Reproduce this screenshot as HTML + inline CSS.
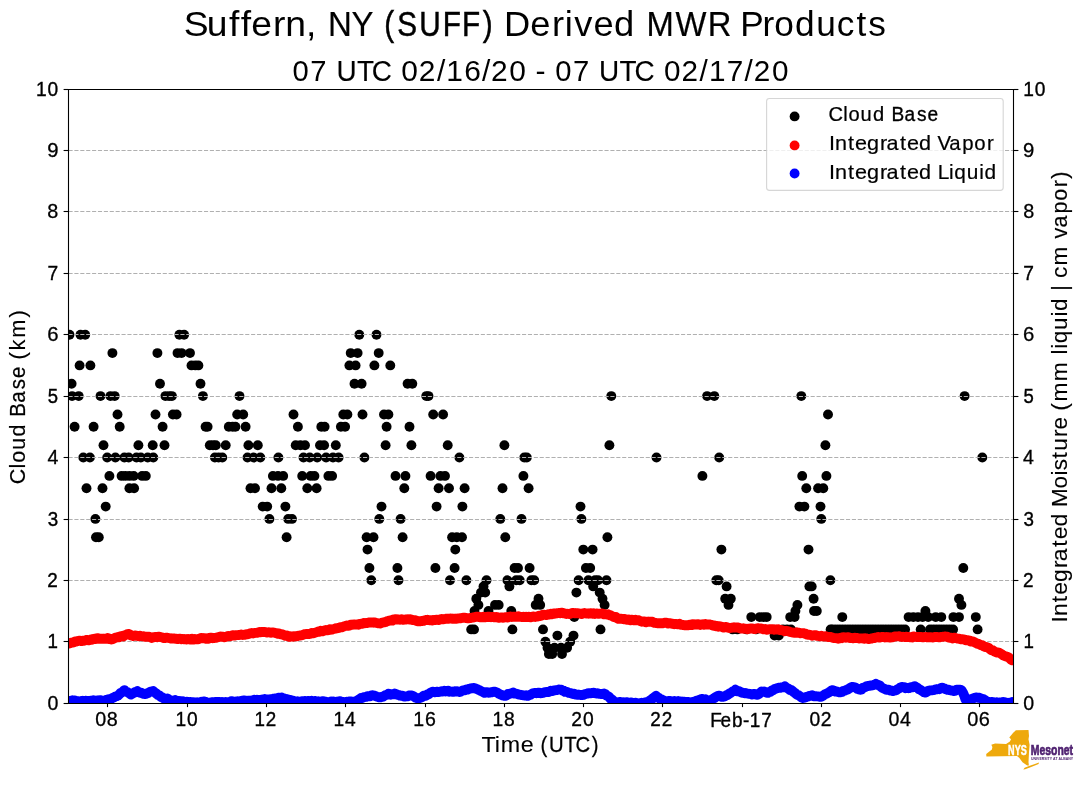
<!DOCTYPE html>
<html><head><meta charset="utf-8"><title>Suffern MWR</title>
<style>html,body{margin:0;padding:0;background:#fff}svg{display:block;will-change:transform}</style></head>
<body>
<svg width="1089" height="804" viewBox="0 0 1089 804" font-family="'Liberation Sans', sans-serif" style="font-kerning:none">
<rect width="1089" height="804" fill="#fff"/>
<defs><clipPath id="ax"><rect x="68.5" y="89.5" width="945.0" height="614.0"/></clipPath></defs>
<g clip-path="url(#ax)" fill="#000">
<circle cx="69.5" cy="334.7" r="4.95"/>
<circle cx="80.5" cy="334.7" r="4.95"/>
<circle cx="85.2" cy="334.7" r="4.95"/>
<circle cx="179.4" cy="334.7" r="4.95"/>
<circle cx="184.1" cy="334.7" r="4.95"/>
<circle cx="359.3" cy="334.7" r="4.95"/>
<circle cx="376.5" cy="334.7" r="4.95"/>
<circle cx="112.4" cy="353.1" r="4.95"/>
<circle cx="157.4" cy="353.1" r="4.95"/>
<circle cx="177.5" cy="353.1" r="4.95"/>
<circle cx="181.6" cy="353.1" r="4.95"/>
<circle cx="190.0" cy="353.1" r="4.95"/>
<circle cx="350.7" cy="353.1" r="4.95"/>
<circle cx="357.6" cy="353.1" r="4.95"/>
<circle cx="378.7" cy="353.1" r="4.95"/>
<circle cx="79.6" cy="365.4" r="4.95"/>
<circle cx="90.4" cy="365.4" r="4.95"/>
<circle cx="191.5" cy="365.4" r="4.95"/>
<circle cx="195.3" cy="365.4" r="4.95"/>
<circle cx="198.4" cy="365.4" r="4.95"/>
<circle cx="349.4" cy="365.4" r="4.95"/>
<circle cx="355.6" cy="365.4" r="4.95"/>
<circle cx="374.4" cy="365.4" r="4.95"/>
<circle cx="390.3" cy="365.4" r="4.95"/>
<circle cx="71.6" cy="383.8" r="4.95"/>
<circle cx="160.0" cy="383.8" r="4.95"/>
<circle cx="200.5" cy="383.8" r="4.95"/>
<circle cx="354.5" cy="383.8" r="4.95"/>
<circle cx="361.6" cy="383.8" r="4.95"/>
<circle cx="407.6" cy="383.8" r="4.95"/>
<circle cx="412.3" cy="383.8" r="4.95"/>
<circle cx="72.1" cy="396.1" r="4.95"/>
<circle cx="78.7" cy="396.1" r="4.95"/>
<circle cx="100.5" cy="396.1" r="4.95"/>
<circle cx="110.4" cy="396.1" r="4.95"/>
<circle cx="114.7" cy="396.1" r="4.95"/>
<circle cx="165.4" cy="396.1" r="4.95"/>
<circle cx="169.1" cy="396.1" r="4.95"/>
<circle cx="171.9" cy="396.1" r="4.95"/>
<circle cx="202.9" cy="396.1" r="4.95"/>
<circle cx="239.5" cy="396.1" r="4.95"/>
<circle cx="426.3" cy="396.1" r="4.95"/>
<circle cx="428.5" cy="396.1" r="4.95"/>
<circle cx="611.3" cy="396.1" r="4.95"/>
<circle cx="707.1" cy="396.1" r="4.95"/>
<circle cx="714.3" cy="396.1" r="4.95"/>
<circle cx="801.3" cy="396.1" r="4.95"/>
<circle cx="964.6" cy="396.1" r="4.95"/>
<circle cx="117.5" cy="414.5" r="4.95"/>
<circle cx="155.5" cy="414.5" r="4.95"/>
<circle cx="172.9" cy="414.5" r="4.95"/>
<circle cx="176.6" cy="414.5" r="4.95"/>
<circle cx="237.2" cy="414.5" r="4.95"/>
<circle cx="243.2" cy="414.5" r="4.95"/>
<circle cx="293.5" cy="414.5" r="4.95"/>
<circle cx="343.3" cy="414.5" r="4.95"/>
<circle cx="347.4" cy="414.5" r="4.95"/>
<circle cx="362.5" cy="414.5" r="4.95"/>
<circle cx="384.0" cy="414.5" r="4.95"/>
<circle cx="388.4" cy="414.5" r="4.95"/>
<circle cx="433.2" cy="414.5" r="4.95"/>
<circle cx="443.1" cy="414.5" r="4.95"/>
<circle cx="828.0" cy="414.5" r="4.95"/>
<circle cx="74.6" cy="426.8" r="4.95"/>
<circle cx="93.6" cy="426.8" r="4.95"/>
<circle cx="119.7" cy="426.8" r="4.95"/>
<circle cx="162.6" cy="426.8" r="4.95"/>
<circle cx="205.6" cy="426.8" r="4.95"/>
<circle cx="207.6" cy="426.8" r="4.95"/>
<circle cx="228.8" cy="426.8" r="4.95"/>
<circle cx="232.6" cy="426.8" r="4.95"/>
<circle cx="235.4" cy="426.8" r="4.95"/>
<circle cx="245.6" cy="426.8" r="4.95"/>
<circle cx="297.9" cy="426.8" r="4.95"/>
<circle cx="321.3" cy="426.8" r="4.95"/>
<circle cx="324.6" cy="426.8" r="4.95"/>
<circle cx="340.9" cy="426.8" r="4.95"/>
<circle cx="345.1" cy="426.8" r="4.95"/>
<circle cx="386.6" cy="426.8" r="4.95"/>
<circle cx="409.5" cy="426.8" r="4.95"/>
<circle cx="103.5" cy="445.2" r="4.95"/>
<circle cx="138.4" cy="445.2" r="4.95"/>
<circle cx="152.7" cy="445.2" r="4.95"/>
<circle cx="164.5" cy="445.2" r="4.95"/>
<circle cx="209.8" cy="445.2" r="4.95"/>
<circle cx="213.0" cy="445.2" r="4.95"/>
<circle cx="215.8" cy="445.2" r="4.95"/>
<circle cx="225.7" cy="445.2" r="4.95"/>
<circle cx="248.4" cy="445.2" r="4.95"/>
<circle cx="257.8" cy="445.2" r="4.95"/>
<circle cx="295.7" cy="445.2" r="4.95"/>
<circle cx="300.4" cy="445.2" r="4.95"/>
<circle cx="305.0" cy="445.2" r="4.95"/>
<circle cx="320.0" cy="445.2" r="4.95"/>
<circle cx="324.1" cy="445.2" r="4.95"/>
<circle cx="335.8" cy="445.2" r="4.95"/>
<circle cx="385.6" cy="445.2" r="4.95"/>
<circle cx="411.4" cy="445.2" r="4.95"/>
<circle cx="447.7" cy="445.2" r="4.95"/>
<circle cx="504.4" cy="445.2" r="4.95"/>
<circle cx="609.4" cy="445.2" r="4.95"/>
<circle cx="825.4" cy="445.2" r="4.95"/>
<circle cx="83.3" cy="457.5" r="4.95"/>
<circle cx="89.9" cy="457.5" r="4.95"/>
<circle cx="107.2" cy="457.5" r="4.95"/>
<circle cx="115.4" cy="457.5" r="4.95"/>
<circle cx="124.4" cy="457.5" r="4.95"/>
<circle cx="128.7" cy="457.5" r="4.95"/>
<circle cx="136.5" cy="457.5" r="4.95"/>
<circle cx="140.8" cy="457.5" r="4.95"/>
<circle cx="147.7" cy="457.5" r="4.95"/>
<circle cx="153.3" cy="457.5" r="4.95"/>
<circle cx="214.9" cy="457.5" r="4.95"/>
<circle cx="218.6" cy="457.5" r="4.95"/>
<circle cx="222.3" cy="457.5" r="4.95"/>
<circle cx="247.5" cy="457.5" r="4.95"/>
<circle cx="253.7" cy="457.5" r="4.95"/>
<circle cx="260.3" cy="457.5" r="4.95"/>
<circle cx="278.4" cy="457.5" r="4.95"/>
<circle cx="303.5" cy="457.5" r="4.95"/>
<circle cx="309.7" cy="457.5" r="4.95"/>
<circle cx="317.2" cy="457.5" r="4.95"/>
<circle cx="326.1" cy="457.5" r="4.95"/>
<circle cx="333.0" cy="457.5" r="4.95"/>
<circle cx="338.6" cy="457.5" r="4.95"/>
<circle cx="364.4" cy="457.5" r="4.95"/>
<circle cx="459.4" cy="457.5" r="4.95"/>
<circle cx="524.3" cy="457.5" r="4.95"/>
<circle cx="526.8" cy="457.5" r="4.95"/>
<circle cx="656.5" cy="457.5" r="4.95"/>
<circle cx="719.2" cy="457.5" r="4.95"/>
<circle cx="982.3" cy="457.5" r="4.95"/>
<circle cx="109.4" cy="475.9" r="4.95"/>
<circle cx="121.6" cy="475.9" r="4.95"/>
<circle cx="125.3" cy="475.9" r="4.95"/>
<circle cx="129.4" cy="475.9" r="4.95"/>
<circle cx="133.7" cy="475.9" r="4.95"/>
<circle cx="142.1" cy="475.9" r="4.95"/>
<circle cx="145.8" cy="475.9" r="4.95"/>
<circle cx="272.9" cy="475.9" r="4.95"/>
<circle cx="278.0" cy="475.9" r="4.95"/>
<circle cx="283.2" cy="475.9" r="4.95"/>
<circle cx="302.2" cy="475.9" r="4.95"/>
<circle cx="310.6" cy="475.9" r="4.95"/>
<circle cx="314.4" cy="475.9" r="4.95"/>
<circle cx="328.4" cy="475.9" r="4.95"/>
<circle cx="332.1" cy="475.9" r="4.95"/>
<circle cx="395.5" cy="475.9" r="4.95"/>
<circle cx="405.4" cy="475.9" r="4.95"/>
<circle cx="430.6" cy="475.9" r="4.95"/>
<circle cx="440.4" cy="475.9" r="4.95"/>
<circle cx="445.0" cy="475.9" r="4.95"/>
<circle cx="523.4" cy="475.9" r="4.95"/>
<circle cx="702.4" cy="475.9" r="4.95"/>
<circle cx="802.2" cy="475.9" r="4.95"/>
<circle cx="826.4" cy="475.9" r="4.95"/>
<circle cx="86.5" cy="488.2" r="4.95"/>
<circle cx="102.5" cy="488.2" r="4.95"/>
<circle cx="129.4" cy="488.2" r="4.95"/>
<circle cx="134.1" cy="488.2" r="4.95"/>
<circle cx="250.5" cy="488.2" r="4.95"/>
<circle cx="255.0" cy="488.2" r="4.95"/>
<circle cx="271.5" cy="488.2" r="4.95"/>
<circle cx="281.3" cy="488.2" r="4.95"/>
<circle cx="307.3" cy="488.2" r="4.95"/>
<circle cx="316.6" cy="488.2" r="4.95"/>
<circle cx="404.3" cy="488.2" r="4.95"/>
<circle cx="438.6" cy="488.2" r="4.95"/>
<circle cx="449.0" cy="488.2" r="4.95"/>
<circle cx="464.6" cy="488.2" r="4.95"/>
<circle cx="502.5" cy="488.2" r="4.95"/>
<circle cx="528.6" cy="488.2" r="4.95"/>
<circle cx="806.3" cy="488.2" r="4.95"/>
<circle cx="818.1" cy="488.2" r="4.95"/>
<circle cx="823.3" cy="488.2" r="4.95"/>
<circle cx="105.7" cy="506.6" r="4.95"/>
<circle cx="262.7" cy="506.6" r="4.95"/>
<circle cx="267.2" cy="506.6" r="4.95"/>
<circle cx="285.4" cy="506.6" r="4.95"/>
<circle cx="381.5" cy="506.6" r="4.95"/>
<circle cx="436.6" cy="506.6" r="4.95"/>
<circle cx="462.4" cy="506.6" r="4.95"/>
<circle cx="580.5" cy="506.6" r="4.95"/>
<circle cx="799.4" cy="506.6" r="4.95"/>
<circle cx="804.4" cy="506.6" r="4.95"/>
<circle cx="820.5" cy="506.6" r="4.95"/>
<circle cx="95.4" cy="518.9" r="4.95"/>
<circle cx="269.4" cy="518.9" r="4.95"/>
<circle cx="288.2" cy="518.9" r="4.95"/>
<circle cx="292.0" cy="518.9" r="4.95"/>
<circle cx="379.3" cy="518.9" r="4.95"/>
<circle cx="400.6" cy="518.9" r="4.95"/>
<circle cx="500.3" cy="518.9" r="4.95"/>
<circle cx="521.5" cy="518.9" r="4.95"/>
<circle cx="581.4" cy="518.9" r="4.95"/>
<circle cx="821.3" cy="518.9" r="4.95"/>
<circle cx="96.0" cy="537.3" r="4.95"/>
<circle cx="98.8" cy="537.3" r="4.95"/>
<circle cx="286.6" cy="537.3" r="4.95"/>
<circle cx="366.6" cy="537.3" r="4.95"/>
<circle cx="373.5" cy="537.3" r="4.95"/>
<circle cx="402.6" cy="537.3" r="4.95"/>
<circle cx="452.1" cy="537.3" r="4.95"/>
<circle cx="456.8" cy="537.3" r="4.95"/>
<circle cx="462.0" cy="537.3" r="4.95"/>
<circle cx="505.3" cy="537.3" r="4.95"/>
<circle cx="607.4" cy="537.3" r="4.95"/>
<circle cx="367.5" cy="549.6" r="4.95"/>
<circle cx="455.3" cy="549.6" r="4.95"/>
<circle cx="583.3" cy="549.6" r="4.95"/>
<circle cx="592.6" cy="549.6" r="4.95"/>
<circle cx="721.4" cy="549.6" r="4.95"/>
<circle cx="808.5" cy="549.6" r="4.95"/>
<circle cx="369.4" cy="568.0" r="4.95"/>
<circle cx="397.4" cy="568.0" r="4.95"/>
<circle cx="435.4" cy="568.0" r="4.95"/>
<circle cx="454.6" cy="568.0" r="4.95"/>
<circle cx="514.6" cy="568.0" r="4.95"/>
<circle cx="518.0" cy="568.0" r="4.95"/>
<circle cx="529.6" cy="568.0" r="4.95"/>
<circle cx="585.9" cy="568.0" r="4.95"/>
<circle cx="590.2" cy="568.0" r="4.95"/>
<circle cx="963.3" cy="568.0" r="4.95"/>
<circle cx="371.3" cy="580.3" r="4.95"/>
<circle cx="398.5" cy="580.3" r="4.95"/>
<circle cx="450.0" cy="580.3" r="4.95"/>
<circle cx="466.4" cy="580.3" r="4.95"/>
<circle cx="486.5" cy="580.3" r="4.95"/>
<circle cx="507.4" cy="580.3" r="4.95"/>
<circle cx="516.2" cy="580.3" r="4.95"/>
<circle cx="519.7" cy="580.3" r="4.95"/>
<circle cx="531.4" cy="580.3" r="4.95"/>
<circle cx="534.2" cy="580.3" r="4.95"/>
<circle cx="578.6" cy="580.3" r="4.95"/>
<circle cx="588.4" cy="580.3" r="4.95"/>
<circle cx="595.0" cy="580.3" r="4.95"/>
<circle cx="598.0" cy="580.3" r="4.95"/>
<circle cx="606.5" cy="580.3" r="4.95"/>
<circle cx="716.3" cy="580.3" r="4.95"/>
<circle cx="718.7" cy="580.3" r="4.95"/>
<circle cx="830.4" cy="580.3" r="4.95"/>
<circle cx="483.5" cy="586.4" r="4.95"/>
<circle cx="509.4" cy="586.4" r="4.95"/>
<circle cx="593.2" cy="586.4" r="4.95"/>
<circle cx="726.6" cy="586.4" r="4.95"/>
<circle cx="809.4" cy="586.4" r="4.95"/>
<circle cx="811.7" cy="586.4" r="4.95"/>
<circle cx="481.0" cy="592.6" r="4.95"/>
<circle cx="485.2" cy="592.6" r="4.95"/>
<circle cx="576.4" cy="592.6" r="4.95"/>
<circle cx="599.7" cy="592.6" r="4.95"/>
<circle cx="476.3" cy="598.7" r="4.95"/>
<circle cx="538.5" cy="598.7" r="4.95"/>
<circle cx="602.5" cy="598.7" r="4.95"/>
<circle cx="725.2" cy="598.7" r="4.95"/>
<circle cx="730.8" cy="598.7" r="4.95"/>
<circle cx="813.6" cy="598.7" r="4.95"/>
<circle cx="959.0" cy="598.7" r="4.95"/>
<circle cx="478.4" cy="604.9" r="4.95"/>
<circle cx="495.0" cy="604.9" r="4.95"/>
<circle cx="498.7" cy="604.9" r="4.95"/>
<circle cx="535.7" cy="604.9" r="4.95"/>
<circle cx="540.2" cy="604.9" r="4.95"/>
<circle cx="604.6" cy="604.9" r="4.95"/>
<circle cx="728.5" cy="604.9" r="4.95"/>
<circle cx="797.4" cy="604.9" r="4.95"/>
<circle cx="961.4" cy="604.9" r="4.95"/>
<circle cx="474.5" cy="611.0" r="4.95"/>
<circle cx="488.5" cy="611.0" r="4.95"/>
<circle cx="511.3" cy="611.0" r="4.95"/>
<circle cx="795.4" cy="611.0" r="4.95"/>
<circle cx="814.0" cy="611.0" r="4.95"/>
<circle cx="816.8" cy="611.0" r="4.95"/>
<circle cx="925.4" cy="611.0" r="4.95"/>
<circle cx="492.0" cy="617.1" r="4.95"/>
<circle cx="574.3" cy="617.1" r="4.95"/>
<circle cx="751.3" cy="617.1" r="4.95"/>
<circle cx="759.7" cy="617.1" r="4.95"/>
<circle cx="763.4" cy="617.1" r="4.95"/>
<circle cx="766.7" cy="617.1" r="4.95"/>
<circle cx="790.2" cy="617.1" r="4.95"/>
<circle cx="794.6" cy="617.1" r="4.95"/>
<circle cx="842.3" cy="617.1" r="4.95"/>
<circle cx="908.6" cy="617.1" r="4.95"/>
<circle cx="913.3" cy="617.1" r="4.95"/>
<circle cx="918.0" cy="617.1" r="4.95"/>
<circle cx="922.6" cy="617.1" r="4.95"/>
<circle cx="928.2" cy="617.1" r="4.95"/>
<circle cx="935.7" cy="617.1" r="4.95"/>
<circle cx="941.3" cy="617.1" r="4.95"/>
<circle cx="953.4" cy="617.1" r="4.95"/>
<circle cx="959.0" cy="617.1" r="4.95"/>
<circle cx="975.8" cy="617.1" r="4.95"/>
<circle cx="471.2" cy="629.4" r="4.95"/>
<circle cx="474.0" cy="629.4" r="4.95"/>
<circle cx="512.4" cy="629.4" r="4.95"/>
<circle cx="543.0" cy="629.4" r="4.95"/>
<circle cx="600.5" cy="629.4" r="4.95"/>
<circle cx="732.6" cy="629.4" r="4.95"/>
<circle cx="737.3" cy="629.4" r="4.95"/>
<circle cx="746.6" cy="629.4" r="4.95"/>
<circle cx="756.0" cy="629.4" r="4.95"/>
<circle cx="783.0" cy="629.4" r="4.95"/>
<circle cx="787.0" cy="629.4" r="4.95"/>
<circle cx="791.0" cy="629.4" r="4.95"/>
<circle cx="830.6" cy="629.4" r="4.95"/>
<circle cx="832.5" cy="629.4" r="4.95"/>
<circle cx="835.8" cy="629.4" r="4.95"/>
<circle cx="839.1" cy="629.4" r="4.95"/>
<circle cx="842.4" cy="629.4" r="4.95"/>
<circle cx="845.7" cy="629.4" r="4.95"/>
<circle cx="849.0" cy="629.4" r="4.95"/>
<circle cx="852.3" cy="629.4" r="4.95"/>
<circle cx="855.6" cy="629.4" r="4.95"/>
<circle cx="858.9" cy="629.4" r="4.95"/>
<circle cx="862.2" cy="629.4" r="4.95"/>
<circle cx="865.5" cy="629.4" r="4.95"/>
<circle cx="868.8" cy="629.4" r="4.95"/>
<circle cx="872.1" cy="629.4" r="4.95"/>
<circle cx="875.4" cy="629.4" r="4.95"/>
<circle cx="878.7" cy="629.4" r="4.95"/>
<circle cx="882.0" cy="629.4" r="4.95"/>
<circle cx="885.3" cy="629.4" r="4.95"/>
<circle cx="888.6" cy="629.4" r="4.95"/>
<circle cx="891.9" cy="629.4" r="4.95"/>
<circle cx="895.2" cy="629.4" r="4.95"/>
<circle cx="898.5" cy="629.4" r="4.95"/>
<circle cx="901.8" cy="629.4" r="4.95"/>
<circle cx="905.1" cy="629.4" r="4.95"/>
<circle cx="920.7" cy="629.4" r="4.95"/>
<circle cx="930.0" cy="629.4" r="4.95"/>
<circle cx="933.3" cy="629.4" r="4.95"/>
<circle cx="936.6" cy="629.4" r="4.95"/>
<circle cx="939.9" cy="629.4" r="4.95"/>
<circle cx="943.2" cy="629.4" r="4.95"/>
<circle cx="946.5" cy="629.4" r="4.95"/>
<circle cx="949.8" cy="629.4" r="4.95"/>
<circle cx="953.1" cy="629.4" r="4.95"/>
<circle cx="977.6" cy="629.4" r="4.95"/>
<circle cx="557.4" cy="635.6" r="4.95"/>
<circle cx="573.5" cy="635.6" r="4.95"/>
<circle cx="774.6" cy="635.6" r="4.95"/>
<circle cx="778.8" cy="635.6" r="4.95"/>
<circle cx="545.4" cy="641.7" r="4.95"/>
<circle cx="570.2" cy="641.7" r="4.95"/>
<circle cx="547.5" cy="647.8" r="4.95"/>
<circle cx="554.5" cy="647.8" r="4.95"/>
<circle cx="561.0" cy="647.8" r="4.95"/>
<circle cx="567.1" cy="647.8" r="4.95"/>
<circle cx="548.9" cy="654.0" r="4.95"/>
<circle cx="552.2" cy="654.0" r="4.95"/>
<circle cx="562.0" cy="654.0" r="4.95"/>
</g>
<g stroke="#b0b0b0" stroke-width="1.1" stroke-dasharray="4.11 1.78" fill="none">
<path d="M68.5 641.5H1013.5"/>
<path d="M68.5 580.5H1013.5"/>
<path d="M68.5 519.5H1013.5"/>
<path d="M68.5 457.5H1013.5"/>
<path d="M68.5 396.5H1013.5"/>
<path d="M68.5 334.5H1013.5"/>
<path d="M68.5 273.5H1013.5"/>
<path d="M68.5 211.5H1013.5"/>
<path d="M68.5 150.5H1013.5"/>
</g>
<polyline clip-path="url(#ax)" points="68.5 643.5 69.8 643.3 71.1 642.6 72.4 642.5 73.7 642.3 75.0 641.5 76.3 641.5 77.6 641.1 78.9 640.8 80.2 640.8 81.5 641.1 82.8 640.6 84.1 640.8 85.4 640.2 86.7 639.9 88.0 640.2 89.3 640.2 90.6 639.5 91.9 639.9 93.2 639.1 94.5 638.7 95.8 639.1 97.1 638.3 98.4 638.3 99.7 638.9 101.0 638.6 102.3 638.6 103.6 638.8 104.9 638.6 106.2 638.8 107.5 638.1 108.8 639.0 110.1 638.7 111.4 639.5 112.7 639.2 114.0 638.5 115.3 637.7 116.6 637.6 117.9 637.0 119.2 637.2 120.5 636.3 121.8 636.0 123.1 636.5 124.4 635.3 125.7 635.0 127.0 634.3 128.3 633.9 129.6 634.2 130.9 635.5 132.2 635.8 133.5 636.1 134.8 635.5 136.1 635.7 137.4 635.9 138.7 636.2 140.0 635.8 141.3 636.2 142.6 636.4 143.9 636.3 145.2 636.8 146.5 636.7 147.8 636.9 149.1 636.8 150.4 637.2 151.7 637.9 153.0 637.2 154.3 637.2 155.6 637.0 156.9 637.2 158.2 636.8 159.5 636.8 160.8 637.1 162.1 637.3 163.4 638.0 164.7 638.1 166.0 637.6 167.3 637.7 168.6 638.0 169.9 638.3 171.2 638.6 172.5 638.4 173.8 638.4 175.1 638.7 176.4 638.6 177.7 639.1 179.0 638.8 180.3 638.8 181.6 639.2 182.9 638.9 184.2 639.3 185.5 639.1 186.8 639.5 188.1 638.9 189.4 639.3 190.7 639.6 192.0 638.8 193.3 639.6 194.6 638.9 195.9 639.4 197.2 639.4 198.5 639.1 199.8 638.4 201.1 638.0 202.4 638.2 203.7 638.4 205.0 638.1 206.3 638.8 207.6 638.3 208.9 638.7 210.2 637.7 211.5 637.7 212.8 638.2 214.1 638.0 215.4 637.9 216.7 637.6 218.0 637.2 219.3 636.9 220.6 636.5 221.9 636.9 223.2 636.8 224.5 637.2 225.8 636.9 227.1 636.4 228.4 635.9 229.7 636.3 231.0 635.8 232.3 635.3 233.6 635.3 234.9 635.5 236.2 635.1 237.5 635.1 238.8 635.0 240.1 634.9 241.4 634.5 242.7 635.0 244.0 634.7 245.3 634.7 246.6 634.2 247.9 634.3 249.2 633.7 250.5 633.3 251.8 633.0 253.1 633.5 254.4 633.0 255.7 632.9 257.0 632.9 258.3 632.4 259.6 632.0 260.9 632.3 262.2 632.0 263.5 631.9 264.8 631.9 266.1 632.3 267.4 632.5 268.7 632.2 270.0 632.6 271.3 632.7 272.6 632.5 273.9 632.7 275.2 632.9 276.5 633.3 277.8 633.7 279.1 633.4 280.4 634.2 281.7 634.1 283.0 634.6 284.3 635.3 285.6 635.9 286.9 635.5 288.2 636.4 289.5 636.9 290.8 636.3 292.1 636.5 293.4 636.7 294.7 636.2 296.0 636.4 297.3 636.1 298.6 635.6 299.9 635.5 301.2 635.3 302.5 635.1 303.8 634.5 305.1 634.1 306.4 634.0 307.7 633.9 309.0 634.0 310.3 633.9 311.6 633.0 312.9 633.3 314.2 633.1 315.5 632.5 316.8 632.2 318.1 631.5 319.4 631.7 320.7 630.8 322.0 631.4 323.3 631.0 324.6 630.6 325.9 630.0 327.2 630.4 328.5 630.2 329.8 629.3 331.1 629.7 332.4 629.5 333.7 629.0 335.0 628.7 336.3 628.1 337.6 628.3 338.9 628.0 340.2 627.2 341.5 627.4 342.8 626.8 344.1 626.3 345.4 626.0 346.7 625.4 348.0 625.8 349.3 625.6 350.6 624.6 351.9 624.9 353.2 624.7 354.5 624.5 355.8 624.6 357.1 624.5 358.4 624.8 359.7 624.0 361.0 623.8 362.3 623.7 363.6 623.0 364.9 623.3 366.2 623.0 367.5 623.1 368.8 622.5 370.1 622.4 371.4 622.5 372.7 622.4 374.0 622.7 375.3 622.5 376.6 623.0 377.9 623.3 379.2 623.4 380.5 623.5 381.8 622.8 383.1 622.4 384.4 622.3 385.7 621.9 387.0 621.3 388.3 620.9 389.6 620.6 390.9 620.3 392.2 620.6 393.5 619.5 394.8 619.5 396.1 619.1 397.4 619.6 398.7 619.5 400.0 619.8 401.3 619.2 402.6 619.7 403.9 619.8 405.2 619.5 406.5 619.5 407.8 619.2 409.1 619.5 410.4 619.2 411.7 619.8 413.0 620.0 414.3 620.1 415.6 620.4 416.9 621.1 418.2 621.3 419.5 621.1 420.8 621.2 422.1 621.0 423.4 620.9 424.7 620.3 426.0 620.0 427.3 619.8 428.6 620.1 429.9 620.2 431.2 620.1 432.5 620.5 433.8 619.9 435.1 620.1 436.4 619.6 437.7 619.8 439.0 620.0 440.3 619.3 441.6 619.0 442.9 619.3 444.2 619.1 445.5 618.9 446.8 618.6 448.1 618.8 449.4 618.6 450.7 618.5 452.0 618.8 453.3 618.6 454.6 618.7 455.9 618.8 457.2 618.6 458.5 618.4 459.8 618.4 461.1 618.1 462.4 617.9 463.7 617.7 465.0 617.7 466.3 618.1 467.6 618.2 468.9 618.3 470.2 618.0 471.5 617.8 472.8 617.5 474.1 617.3 475.4 616.9 476.7 616.7 478.0 616.7 479.3 617.2 480.6 617.4 481.9 617.1 483.2 616.8 484.5 617.4 485.8 617.0 487.1 617.0 488.4 616.6 489.7 617.0 491.0 617.2 492.3 617.0 493.6 617.0 494.9 617.4 496.2 616.9 497.5 617.4 498.8 617.8 500.1 617.6 501.4 617.4 502.7 617.7 504.0 617.6 505.3 617.2 506.6 617.1 507.9 617.6 509.2 616.8 510.5 616.4 511.8 617.0 513.1 616.7 514.4 616.6 515.7 616.8 517.0 616.9 518.3 616.3 519.6 616.7 520.9 616.9 522.2 617.1 523.5 616.7 524.8 617.1 526.1 616.8 527.4 617.1 528.7 616.7 530.0 617.2 531.3 617.2 532.6 616.7 533.9 616.5 535.2 617.0 536.5 616.5 537.8 616.5 539.1 615.6 540.4 616.0 541.7 615.4 543.0 614.7 544.3 614.7 545.6 615.0 546.9 615.0 548.2 614.3 549.5 614.5 550.8 613.8 552.1 614.2 553.4 613.5 554.7 613.7 556.0 613.4 557.3 613.3 558.6 613.0 559.9 613.2 561.2 612.8 562.5 612.8 563.8 613.4 565.1 613.4 566.4 614.0 567.7 613.7 569.0 614.0 570.3 613.8 571.6 613.2 572.9 613.0 574.2 613.2 575.5 613.3 576.8 613.1 578.1 613.4 579.4 613.4 580.7 613.8 582.0 614.0 583.3 613.3 584.6 613.0 585.9 613.5 587.2 613.5 588.5 613.7 589.8 613.4 591.1 613.2 592.4 613.8 593.7 613.3 595.0 614.0 596.3 613.5 597.6 613.7 598.9 613.7 600.2 613.6 601.5 613.5 602.8 613.6 604.1 614.3 605.4 614.2 606.7 614.5 608.0 614.3 609.3 615.2 610.6 615.3 611.9 616.0 613.2 616.7 614.5 617.3 615.8 617.0 617.1 618.2 618.4 618.9 619.7 618.7 621.0 618.8 622.3 618.9 623.6 619.2 624.9 619.0 626.2 619.7 627.5 619.9 628.8 619.5 630.1 620.3 631.4 619.6 632.7 619.8 634.0 620.3 635.3 619.8 636.6 620.2 637.9 620.1 639.2 620.5 640.5 621.2 641.8 621.7 643.1 621.4 644.4 621.5 645.7 622.3 647.0 621.6 648.3 621.8 649.6 621.7 650.9 621.6 652.2 621.7 653.5 622.5 654.8 622.9 656.1 623.0 657.4 623.3 658.7 623.4 660.0 623.2 661.3 623.2 662.6 623.3 663.9 622.9 665.2 622.7 666.5 622.6 667.8 623.5 669.1 623.3 670.4 623.3 671.7 623.6 673.0 623.9 674.3 624.2 675.6 624.0 676.9 624.2 678.2 624.1 679.5 623.8 680.8 624.7 682.1 624.6 683.4 625.1 684.7 625.2 686.0 625.3 687.3 625.2 688.6 625.2 689.9 624.6 691.2 625.1 692.5 624.2 693.8 624.7 695.1 624.5 696.4 624.6 697.7 624.1 699.0 624.3 700.3 625.0 701.6 624.5 702.9 624.3 704.2 624.7 705.5 623.9 706.8 624.5 708.1 624.5 709.4 624.4 710.7 624.7 712.0 625.2 713.3 625.8 714.6 625.4 715.9 626.2 717.2 625.9 718.5 626.7 719.8 626.2 721.1 626.5 722.4 627.1 723.7 627.6 725.0 627.2 726.3 627.0 727.6 627.6 728.9 627.8 730.2 628.0 731.5 627.7 732.8 627.6 734.1 627.3 735.4 627.5 736.7 627.4 738.0 627.5 739.3 628.1 740.6 628.5 741.9 628.5 743.2 628.3 744.5 628.9 745.8 628.7 747.1 629.2 748.4 628.8 749.7 628.7 751.0 628.4 752.3 628.4 753.6 628.9 754.9 629.1 756.2 628.6 757.5 628.3 758.8 628.3 760.1 628.5 761.4 628.4 762.7 629.0 764.0 629.4 765.3 629.0 766.6 629.7 767.9 629.6 769.2 629.2 770.5 629.2 771.8 629.3 773.1 629.3 774.4 629.7 775.7 629.5 777.0 629.6 778.3 629.2 779.6 630.0 780.9 629.9 782.2 630.4 783.5 630.6 784.8 631.3 786.1 630.7 787.4 631.0 788.7 631.4 790.0 631.9 791.3 632.2 792.6 632.5 793.9 632.7 795.2 632.8 796.5 632.3 797.8 632.7 799.1 632.8 800.4 633.2 801.7 633.1 803.0 633.1 804.3 633.5 805.6 633.6 806.9 634.6 808.2 634.7 809.5 634.7 810.8 635.0 812.1 635.7 813.4 635.4 814.7 635.2 816.0 635.3 817.3 635.9 818.6 635.9 819.9 636.3 821.2 635.8 822.5 636.2 823.8 636.6 825.1 636.2 826.4 636.4 827.7 637.0 829.0 636.9 830.3 636.9 831.6 637.2 832.9 637.9 834.2 638.1 835.5 638.1 836.8 638.2 838.1 638.7 839.4 638.4 840.7 637.7 842.0 638.2 843.3 637.2 844.6 637.4 845.9 637.7 847.2 637.4 848.5 637.1 849.8 638.0 851.1 638.0 852.4 638.2 853.7 638.2 855.0 637.7 856.3 638.0 857.6 638.0 858.9 638.5 860.2 638.4 861.5 638.4 862.8 638.4 864.1 638.7 865.4 638.3 866.7 638.5 868.0 639.0 869.3 639.0 870.6 638.7 871.9 638.5 873.2 638.0 874.5 638.0 875.8 637.6 877.1 637.4 878.4 636.9 879.7 637.6 881.0 637.2 882.3 636.9 883.6 637.0 884.9 637.5 886.2 637.0 887.5 637.3 888.8 637.3 890.1 637.6 891.4 637.4 892.7 637.3 894.0 636.7 895.3 636.5 896.6 636.4 897.9 636.4 899.2 636.3 900.5 636.7 901.8 637.0 903.1 636.7 904.4 637.0 905.7 636.8 907.0 636.8 908.3 637.0 909.6 637.2 910.9 637.2 912.2 637.5 913.5 636.5 914.8 636.7 916.1 637.0 917.4 637.0 918.7 637.0 920.0 637.0 921.3 636.9 922.6 637.3 923.9 637.3 925.2 637.0 926.5 637.2 927.8 637.3 929.1 637.4 930.4 637.2 931.7 637.4 933.0 637.5 934.3 636.9 935.6 637.0 936.9 637.0 938.2 637.1 939.5 637.4 940.8 636.9 942.1 636.9 943.4 636.8 944.7 636.5 946.0 636.7 947.3 636.8 948.6 637.6 949.9 637.7 951.2 637.8 952.5 638.5 953.8 637.7 955.1 637.8 956.4 638.3 957.7 638.6 959.0 638.7 960.3 639.2 961.6 639.1 962.9 639.4 964.2 639.4 965.5 640.1 966.8 640.4 968.1 640.3 969.4 640.6 970.7 641.6 972.0 641.3 973.3 641.6 974.6 642.3 975.9 642.9 977.2 643.8 978.5 643.8 979.8 644.5 981.1 645.3 982.4 645.3 983.7 646.3 985.0 647.0 986.3 647.0 987.6 647.4 988.9 648.0 990.2 649.4 991.5 650.2 992.8 650.2 994.1 651.3 995.4 651.8 996.7 652.6 998.0 652.4 999.3 652.8 1000.6 653.5 1001.9 654.4 1003.2 655.4 1004.5 655.9 1005.8 656.3 1007.1 656.8 1008.4 657.2 1009.7 658.4 1011.0 659.6 1012.3 660.3" fill="none" stroke="#ff0000" stroke-width="9.9" stroke-linecap="round" stroke-linejoin="round"/>
<polyline clip-path="url(#ax)" points="68.5 701.1 69.8 700.9 71.1 700.8 72.4 700.3 73.7 700.5 75.0 700.4 76.3 701.0 77.6 701.1 78.9 701.5 80.2 701.5 81.5 701.0 82.8 700.8 84.1 701.0 85.4 700.8 86.7 700.9 88.0 701.0 89.3 701.1 90.6 700.7 91.9 700.8 93.2 700.2 94.5 700.6 95.8 701.2 97.1 700.4 98.4 700.6 99.7 700.3 101.0 700.3 102.3 701.0 103.6 701.1 104.9 700.6 106.2 699.9 107.5 699.6 108.8 699.1 110.1 699.1 111.4 698.6 112.7 697.9 114.0 697.4 115.3 696.5 116.6 696.2 117.9 695.6 119.2 694.5 120.5 693.0 121.8 692.4 123.1 691.6 124.4 690.1 125.7 691.5 127.0 691.9 128.3 692.8 129.6 693.3 130.9 694.5 132.2 693.7 133.5 693.1 134.8 692.2 136.1 692.0 137.4 691.1 138.7 692.1 140.0 692.9 141.3 692.7 142.6 693.5 143.9 693.9 145.2 694.1 146.5 693.7 147.8 693.2 149.1 692.4 150.4 691.6 151.7 691.5 153.0 690.9 154.3 692.1 155.6 693.0 156.9 694.0 158.2 695.1 159.5 695.5 160.8 696.9 162.1 697.3 163.4 698.2 164.7 698.8 166.0 698.8 167.3 698.5 168.6 699.3 169.9 700.0 171.2 700.6 172.5 700.6 173.8 700.8 175.1 700.1 176.4 701.0 177.7 700.9 179.0 700.9 180.3 701.4 181.6 701.6 182.9 701.2 184.2 702.0 185.5 702.1 186.8 701.7 188.1 702.2 189.4 702.1 190.7 701.9 192.0 702.6 193.3 702.1 194.6 702.7 195.9 702.6 197.2 702.3 198.5 702.5 199.8 702.3 201.1 701.8 202.4 702.3 203.7 701.4 205.0 701.6 206.3 702.2 207.6 702.8 208.9 702.6 210.2 702.6 211.5 702.3 212.8 702.4 214.1 702.1 215.4 702.0 216.7 702.3 218.0 701.9 219.3 702.0 220.6 702.5 221.9 701.9 223.2 702.4 224.5 702.4 225.8 702.0 227.1 702.3 228.4 702.2 229.7 702.1 231.0 701.2 232.3 701.2 233.6 701.5 234.9 701.8 236.2 701.6 237.5 701.3 238.8 701.7 240.1 701.8 241.4 700.9 242.7 700.7 244.0 700.4 245.3 700.6 246.6 701.1 247.9 700.6 249.2 700.8 250.5 700.6 251.8 700.5 253.1 700.7 254.4 699.7 255.7 700.3 257.0 699.7 258.3 700.0 259.6 700.0 260.9 699.8 262.2 699.5 263.5 699.8 264.8 699.1 266.1 699.7 267.4 699.5 268.7 699.5 270.0 699.5 271.3 699.1 272.6 698.9 273.9 698.6 275.2 698.5 276.5 698.5 277.8 697.9 279.1 697.7 280.4 698.2 281.7 697.5 283.0 698.4 284.3 698.5 285.6 698.9 286.9 699.3 288.2 699.4 289.5 700.0 290.8 700.0 292.1 700.7 293.4 700.8 294.7 701.4 296.0 701.5 297.3 701.3 298.6 701.6 299.9 701.9 301.2 701.3 302.5 701.1 303.8 701.1 305.1 701.0 306.4 701.4 307.7 701.0 309.0 701.0 310.3 701.3 311.6 700.7 312.9 701.3 314.2 701.2 315.5 701.0 316.8 701.5 318.1 701.3 319.4 701.9 320.7 701.8 322.0 701.2 323.3 701.2 324.6 701.7 325.9 701.8 327.2 702.1 328.5 702.1 329.8 701.9 331.1 701.5 332.4 701.8 333.7 701.5 335.0 702.0 336.3 702.0 337.6 701.6 338.9 701.4 340.2 701.2 341.5 702.2 342.8 701.9 344.1 702.1 345.4 702.4 346.7 701.7 348.0 702.3 349.3 701.5 350.6 701.4 351.9 701.6 353.2 701.7 354.5 702.2 355.8 701.4 357.1 700.6 358.4 699.7 359.7 699.1 361.0 698.0 362.3 698.0 363.6 697.3 364.9 696.9 366.2 696.9 367.5 696.2 368.8 696.1 370.1 696.4 371.4 695.4 372.7 695.3 374.0 695.6 375.3 696.0 376.6 696.6 377.9 696.8 379.2 697.3 380.5 697.4 381.8 696.9 383.1 696.6 384.4 695.7 385.7 695.1 387.0 694.8 388.3 693.8 389.6 693.9 390.9 694.7 392.2 694.2 393.5 694.3 394.8 693.5 396.1 694.0 397.4 694.8 398.7 694.9 400.0 695.6 401.3 695.7 402.6 695.7 403.9 696.5 405.2 696.5 406.5 696.4 407.8 696.3 409.1 695.5 410.4 695.4 411.7 695.5 413.0 696.1 414.3 696.7 415.6 697.8 416.9 698.1 418.2 698.2 419.5 698.2 420.8 697.7 422.1 697.1 423.4 695.9 424.7 695.4 426.0 695.8 427.3 694.5 428.6 694.3 429.9 693.1 431.2 692.4 432.5 691.6 433.8 691.8 435.1 692.3 436.4 691.7 437.7 691.8 439.0 692.0 440.3 691.7 441.6 691.3 442.9 691.5 444.2 690.8 445.5 691.5 446.8 691.2 448.1 690.8 449.4 691.8 450.7 691.5 452.0 691.8 453.3 691.8 454.6 691.3 455.9 691.6 457.2 691.3 458.5 691.6 459.8 692.0 461.1 691.4 462.4 690.6 463.7 690.3 465.0 690.3 466.3 689.5 467.6 689.6 468.9 688.9 470.2 688.6 471.5 688.2 472.8 688.2 474.1 688.0 475.4 688.6 476.7 689.0 478.0 689.6 479.3 690.1 480.6 690.8 481.9 691.5 483.2 692.1 484.5 692.8 485.8 692.3 487.1 692.2 488.4 692.7 489.7 692.6 491.0 692.3 492.3 692.2 493.6 691.7 494.9 691.8 496.2 692.2 497.5 692.8 498.8 693.7 500.1 694.3 501.4 694.8 502.7 695.4 504.0 695.7 505.3 695.8 506.6 695.3 507.9 694.0 509.2 694.0 510.5 693.6 511.8 693.2 513.1 692.5 514.4 693.5 515.7 693.7 517.0 693.9 518.3 694.4 519.6 694.7 520.9 694.9 522.2 695.2 523.5 695.4 524.8 695.5 526.1 695.2 527.4 695.9 528.7 695.5 530.0 695.0 531.3 694.2 532.6 693.4 533.9 693.2 535.2 692.9 536.5 693.2 537.8 693.0 539.1 692.6 540.4 693.2 541.7 693.1 543.0 692.9 544.3 692.4 545.6 692.1 546.9 691.9 548.2 692.1 549.5 691.6 550.8 690.8 552.1 691.1 553.4 690.6 554.7 690.3 556.0 690.1 557.3 690.0 558.6 689.5 559.9 689.6 561.2 689.7 562.5 690.7 563.8 690.8 565.1 691.9 566.4 691.7 567.7 692.3 569.0 692.9 570.3 693.1 571.6 693.5 572.9 694.1 574.2 693.7 575.5 694.5 576.8 694.6 578.1 694.9 579.4 694.7 580.7 695.0 582.0 695.1 583.3 694.9 584.6 694.3 585.9 693.9 587.2 693.7 588.5 693.1 589.8 693.1 591.1 693.2 592.4 692.9 593.7 692.8 595.0 693.2 596.3 693.5 597.6 693.2 598.9 693.8 600.2 693.9 601.5 694.1 602.8 693.8 604.1 693.5 605.4 694.2 606.7 695.7 608.0 696.2 609.3 697.0 610.6 698.9 611.9 699.4 613.2 700.6 614.5 701.8 615.8 702.4 617.1 702.6 618.4 702.1 619.7 702.0 621.0 702.2 622.3 702.8 623.6 702.3 624.9 702.7 626.2 702.3 627.5 702.3 628.8 702.8 630.1 702.7 631.4 702.5 632.7 702.9 634.0 703.1 635.3 702.8 636.6 702.9 637.9 703.6 639.2 704.0 640.5 703.1 641.8 702.8 643.1 703.0 644.4 702.8 645.7 702.1 647.0 702.4 648.3 701.8 649.6 700.7 650.9 700.0 652.2 698.9 653.5 697.7 654.8 696.8 656.1 695.9 657.4 697.3 658.7 697.7 660.0 699.0 661.3 699.3 662.6 699.9 663.9 701.0 665.2 701.2 666.5 701.3 667.8 701.2 669.1 701.0 670.4 701.0 671.7 701.3 673.0 701.6 674.3 701.0 675.6 701.8 676.9 701.6 678.2 701.0 679.5 701.5 680.8 701.5 682.1 701.8 683.4 701.6 684.7 701.9 686.0 701.9 687.3 702.1 688.6 702.0 689.9 702.3 691.2 702.5 692.5 702.1 693.8 701.7 695.1 701.6 696.4 700.8 697.7 700.4 699.0 700.0 700.3 699.6 701.6 698.9 702.9 698.9 704.2 699.5 705.5 699.3 706.8 700.2 708.1 700.2 709.4 701.1 710.7 700.7 712.0 699.4 713.3 698.6 714.6 698.0 715.9 696.9 717.2 696.3 718.5 695.6 719.8 695.9 721.1 696.8 722.4 696.9 723.7 696.5 725.0 696.3 726.3 695.2 727.6 695.0 728.9 693.9 730.2 693.2 731.5 692.4 732.8 691.4 734.1 691.2 735.4 689.7 736.7 690.5 738.0 691.4 739.3 691.2 740.6 692.1 741.9 692.7 743.2 692.7 744.5 693.3 745.8 693.0 747.1 693.5 748.4 693.8 749.7 693.9 751.0 694.1 752.3 694.6 753.6 694.0 754.9 693.9 756.2 694.6 757.5 694.8 758.8 694.0 760.1 693.0 761.4 691.6 762.7 692.1 764.0 691.5 765.3 691.9 766.6 692.6 767.9 692.9 769.2 692.0 770.5 691.8 771.8 690.5 773.1 690.3 774.4 689.2 775.7 688.7 777.0 688.3 778.3 687.8 779.6 687.8 780.9 687.7 782.2 687.2 783.5 687.3 784.8 686.4 786.1 687.5 787.4 688.2 788.7 688.8 790.0 690.0 791.3 690.0 792.6 691.1 793.9 692.2 795.2 693.1 796.5 694.5 797.8 694.9 799.1 695.6 800.4 696.6 801.7 697.6 803.0 698.0 804.3 697.7 805.6 697.3 806.9 696.6 808.2 696.6 809.5 695.8 810.8 695.6 812.1 695.3 813.4 696.1 814.7 696.4 816.0 696.3 817.3 696.4 818.6 696.4 819.9 696.8 821.2 696.9 822.5 696.1 823.8 695.2 825.1 694.2 826.4 693.8 827.7 693.0 829.0 692.3 830.3 691.5 831.6 690.5 832.9 690.1 834.2 690.9 835.5 691.6 836.8 691.5 838.1 691.9 839.4 692.4 840.7 692.3 842.0 692.0 843.3 690.9 844.6 690.9 845.9 690.1 847.2 689.8 848.5 689.0 849.8 688.1 851.1 687.2 852.4 686.9 853.7 687.1 855.0 687.3 856.3 688.0 857.6 689.0 858.9 689.5 860.2 689.8 861.5 689.4 862.8 687.9 864.1 687.6 865.4 687.0 866.7 686.1 868.0 686.0 869.3 685.9 870.6 685.4 871.9 685.5 873.2 685.2 874.5 684.7 875.8 683.9 877.1 684.8 878.4 685.0 879.7 685.4 881.0 686.8 882.3 687.8 883.6 688.5 884.9 689.1 886.2 689.7 887.5 689.7 888.8 689.7 890.1 690.5 891.4 690.6 892.7 691.0 894.0 690.8 895.3 690.5 896.6 689.9 897.9 689.0 899.2 688.3 900.5 687.4 901.8 687.0 903.1 687.2 904.4 687.1 905.7 688.2 907.0 688.0 908.3 688.2 909.6 688.0 910.9 687.1 912.2 687.4 913.5 686.7 914.8 686.2 916.1 687.2 917.4 687.8 918.7 689.1 920.0 689.6 921.3 690.3 922.6 691.3 923.9 692.2 925.2 692.6 926.5 692.1 927.8 690.9 929.1 690.7 930.4 690.4 931.7 690.4 933.0 690.2 934.3 689.9 935.6 689.4 936.9 689.3 938.2 688.9 939.5 689.2 940.8 688.2 942.1 687.7 943.4 688.2 944.7 688.6 946.0 689.3 947.3 689.7 948.6 689.8 949.9 690.2 951.2 690.5 952.5 690.6 953.8 691.0 955.1 690.9 956.4 689.9 957.7 689.6 959.0 689.7 960.3 689.7 961.6 690.4 962.9 692.5 964.2 695.5 965.5 699.4 966.8 699.7 968.1 700.0 969.4 699.3 970.7 699.1 972.0 698.8 973.3 698.3 974.6 697.8 975.9 697.5 977.2 697.7 978.5 697.6 979.8 698.0 981.1 698.4 982.4 699.1 983.7 699.2 985.0 700.1 986.3 701.4 987.6 701.6 988.9 701.8 990.2 702.4 991.5 701.9 992.8 702.1 994.1 702.5 995.4 703.0 996.7 702.3 998.0 703.1 999.3 702.5 1000.6 702.6 1001.9 702.4 1003.2 701.9 1004.5 702.8 1005.8 702.4 1007.1 703.2 1008.4 703.2 1009.7 702.6 1011.0 702.9 1012.3 702.0" fill="none" stroke="#0000ff" stroke-width="9.9" stroke-linecap="round" stroke-linejoin="round"/>
<g stroke="#000" stroke-width="1.1" fill="none" stroke-linecap="square">
<path d="M68.5 89.5H1013.5V703.5H68.5Z"/>
</g>
<g stroke="#000" stroke-width="1.1" fill="none">
<path d="M63.6 703.5H68.5"/><path d="M1013.5 703.5h4.9"/>
<path d="M63.6 641.5H68.5"/><path d="M1013.5 641.5h4.9"/>
<path d="M63.6 580.5H68.5"/><path d="M1013.5 580.5h4.9"/>
<path d="M63.6 519.5H68.5"/><path d="M1013.5 519.5h4.9"/>
<path d="M63.6 457.5H68.5"/><path d="M1013.5 457.5h4.9"/>
<path d="M63.6 396.5H68.5"/><path d="M1013.5 396.5h4.9"/>
<path d="M63.6 334.5H68.5"/><path d="M1013.5 334.5h4.9"/>
<path d="M63.6 273.5H68.5"/><path d="M1013.5 273.5h4.9"/>
<path d="M63.6 211.5H68.5"/><path d="M1013.5 211.5h4.9"/>
<path d="M63.6 150.5H68.5"/><path d="M1013.5 150.5h4.9"/>
<path d="M63.6 89.5H68.5"/><path d="M1013.5 89.5h4.9"/>
<path d="M107.5 703.5v3.6"/>
<path d="M187.5 703.5v3.6"/>
<path d="M266.5 703.5v3.6"/>
<path d="M345.5 703.5v3.6"/>
<path d="M425.5 703.5v3.6"/>
<path d="M504.5 703.5v3.6"/>
<path d="M583.5 703.5v3.6"/>
<path d="M662.5 703.5v3.6"/>
<path d="M742.5 703.5v3.6"/>
<path d="M821.5 703.5v3.6"/>
<path d="M900.5 703.5v3.6"/>
<path d="M979.5 703.5v3.6"/>
</g>
<text transform="translate(0 710.20) scale(0.9948 1)" font-size="19.71" fill="#000" stroke="#000" stroke-width="0.31" x="47.65">0</text>
<text transform="translate(0 710.20) scale(0.9948 1)" font-size="19.71" fill="#000" stroke="#000" stroke-width="0.31" x="1028.51">0</text>
<text transform="translate(0 648.20) scale(0.9502 1)" font-size="19.71" fill="#000" stroke="#000" stroke-width="0.39" x="50.05">1</text>
<text transform="translate(0 648.20) scale(0.9502 1)" font-size="19.71" fill="#000" stroke="#000" stroke-width="0.39" x="1077.03">1</text>
<text transform="translate(0 587.20) scale(0.9589 1)" font-size="19.71" fill="#000" stroke="#000" stroke-width="0.37" x="49.39">2</text>
<text transform="translate(0 587.20) scale(0.9589 1)" font-size="19.71" fill="#000" stroke="#000" stroke-width="0.37" x="1066.99">2</text>
<text transform="translate(0 526.20) scale(0.9554 1)" font-size="19.71" fill="#000" stroke="#000" stroke-width="0.38" x="49.86">3</text>
<text transform="translate(0 526.20) scale(0.9554 1)" font-size="19.71" fill="#000" stroke="#000" stroke-width="0.38" x="1071.20">3</text>
<text transform="translate(0 464.20) scale(0.9949 1)" font-size="19.71" fill="#000" stroke="#000" stroke-width="0.31" x="47.64">4</text>
<text transform="translate(0 464.20) scale(0.9949 1)" font-size="19.71" fill="#000" stroke="#000" stroke-width="0.31" x="1028.38">4</text>
<text transform="translate(0 403.20) scale(0.9389 1)" font-size="19.71" fill="#000" stroke="#000" stroke-width="0.41" x="50.74">5</text>
<text transform="translate(0 403.20) scale(0.9389 1)" font-size="19.71" fill="#000" stroke="#000" stroke-width="0.41" x="1090.05">5</text>
<text transform="translate(0 341.20) scale(1.0296 1)" font-size="19.71" fill="#000" stroke="#000" stroke-width="0.30" x="45.85">6</text>
<text transform="translate(0 341.20) scale(1.0296 1)" font-size="19.71" fill="#000" stroke="#000" stroke-width="0.30" x="993.56">6</text>
<text transform="translate(0 280.20) scale(0.9731 1)" font-size="19.71" fill="#000" stroke="#000" stroke-width="0.35" x="48.79">7</text>
<text transform="translate(0 280.20) scale(0.9731 1)" font-size="19.71" fill="#000" stroke="#000" stroke-width="0.35" x="1051.52">7</text>
<text transform="translate(0 218.20) scale(1.0056 1)" font-size="19.71" fill="#000" stroke="#000" stroke-width="0.30" x="47.08">8</text>
<text transform="translate(0 218.20) scale(1.0056 1)" font-size="19.71" fill="#000" stroke="#000" stroke-width="0.30" x="1017.43">8</text>
<text transform="translate(0 157.20) scale(1.0275 1)" font-size="19.71" fill="#000" stroke="#000" stroke-width="0.30" x="45.90">9</text>
<text transform="translate(0 157.20) scale(1.0275 1)" font-size="19.71" fill="#000" stroke="#000" stroke-width="0.30" x="995.54">9</text>
<text transform="translate(0 96.20) scale(0.9736 1)" font-size="19.71" fill="#000" stroke="#000" stroke-width="0.35" x="36.90 48.80">10</text>
<text transform="translate(0 96.20) scale(0.9736 1)" font-size="19.71" fill="#000" stroke="#000" stroke-width="0.35" x="1050.91 1062.81">10</text>
<text transform="translate(0 725.90) scale(1.0002 1)" font-size="19.71" fill="#000" stroke="#000" stroke-width="0.30" x="95.36 106.84">08</text>
<text transform="translate(0 725.90) scale(0.9736 1)" font-size="19.71" fill="#000" stroke="#000" stroke-width="0.35" x="180.17 192.07">10</text>
<text transform="translate(0 725.90) scale(0.9547 1)" font-size="19.71" fill="#000" stroke="#000" stroke-width="0.38" x="266.62 278.50">12</text>
<text transform="translate(0 725.90) scale(0.9743 1)" font-size="19.71" fill="#000" stroke="#000" stroke-width="0.35" x="342.21 354.10">14</text>
<text transform="translate(0 725.90) scale(0.9912 1)" font-size="19.71" fill="#000" stroke="#000" stroke-width="0.32" x="416.97 428.66">16</text>
<text transform="translate(0 725.90) scale(0.9791 1)" font-size="19.71" fill="#000" stroke="#000" stroke-width="0.34" x="502.92 514.76">18</text>
<text transform="translate(0 725.90) scale(0.9773 1)" font-size="19.71" fill="#000" stroke="#000" stroke-width="0.34" x="584.53 596.52">20</text>
<text transform="translate(0 725.90) scale(0.9589 1)" font-size="19.71" fill="#000" stroke="#000" stroke-width="0.37" x="678.23 690.21">22</text>
<text transform="translate(0 727.00) scale(0.9599 1)" font-size="19.71" fill="#000" stroke="#000" stroke-width="0.37" x="739.92 750.70 762.54 773.98 781.06 793.09">Feb-17</text>
<text transform="translate(0 725.90) scale(0.9773 1)" font-size="19.71" fill="#000" stroke="#000" stroke-width="0.34" x="828.30 839.81">02</text>
<text transform="translate(0 725.90) scale(0.9949 1)" font-size="19.71" fill="#000" stroke="#000" stroke-width="0.31" x="892.96 904.51">04</text>
<text transform="translate(0 725.90) scale(1.0119 1)" font-size="19.71" fill="#000" stroke="#000" stroke-width="0.30" x="955.91 967.26">06</text>
<text transform="translate(0 752.00) scale(1.0538 1)" font-size="22.08" fill="#000" stroke="#000" stroke-width="0.10" x="456.86 469.43 475.26 494.20">Time</text>
<text transform="translate(0 752.00) scale(0.9193 1)" font-size="22.08" fill="#000" stroke="#000" stroke-width="0.26" x="588.06 597.19 613.82 626.13 643.58">(UTC)</text>
<text transform="translate(25.00 482.00) rotate(-90) scale(0.9768 1)" font-size="22.08" fill="#000" stroke="#000" stroke-width="0.15" x="-2.25 13.86 19.73 33.05 46.57">Cloud</text>
<text transform="translate(25.00 482.00) rotate(-90) scale(0.9268 1)" font-size="22.08" fill="#000" stroke="#000" stroke-width="0.25" x="70.45 85.57 99.98 112.11">Base</text>
<text transform="translate(25.00 482.00) rotate(-90) scale(0.9880 1)" font-size="22.08" fill="#000" stroke="#000" stroke-width="0.13" x="124.06 133.23 145.92 166.42">(km)</text>
<text transform="translate(1066.80 620.30) rotate(-90) scale(1.0433 1)" font-size="22.08" fill="#000" stroke="#000" stroke-width="0.10" x="-2.16 4.08 17.30 24.38 36.72 50.09 56.72 70.54 77.63 89.96">Integrated</text>
<text transform="translate(1066.80 620.30) rotate(-90) scale(1.0175 1)" font-size="22.08" fill="#000" stroke="#000" stroke-width="0.10" x="111.31 129.47 142.27 147.52 159.12 166.56 180.15 187.41">Moisture</text>
<text transform="translate(1066.80 620.30) rotate(-90) scale(1.0313 1)" font-size="22.08" fill="#000" stroke="#000" stroke-width="0.10" x="203.25 212.13 231.81">(mm</text>
<text transform="translate(1066.80 620.30) rotate(-90) scale(1.0133 1)" font-size="22.08" fill="#000" stroke="#000" stroke-width="0.10" x="262.20 267.92 273.48 286.61 299.72 305.29">liquid</text>
<text transform="translate(1066.80 620.30) rotate(-90) scale(0.9667 1)" font-size="22.08" fill="#000" stroke="#000" stroke-width="0.17" x="341.02">|</text>
<text transform="translate(1066.80 620.30) rotate(-90) scale(1.0266 1)" font-size="22.08" fill="#000" stroke="#000" stroke-width="0.10" x="333.50 345.60">cm</text>
<text transform="translate(1066.80 620.30) rotate(-90) scale(0.9771 1)" font-size="22.08" fill="#000" stroke="#000" stroke-width="0.15" x="390.65 402.08 416.32 429.48 443.26 451.94">vapor)</text>
<text transform="translate(0 35.80) scale(1.0559 1)" font-size="35.32" fill="#000" x="174.02 195.80 216.77 227.91 237.97 258.64 270.18 289.76">Suffern,</text>
<text transform="translate(0 35.80) scale(0.9337 1)" font-size="35.32" fill="#000" stroke="#000" stroke-width="0.21" x="351.28 376.57">NY</text>
<text transform="translate(0 35.80) scale(0.8410 1)" font-size="35.32" fill="#000" stroke="#000" stroke-width="0.50" x="456.93 472.48 498.44 526.42 549.27 574.17">(SUFF)</text>
<text transform="translate(0 35.80) scale(1.0286 1)" font-size="35.32" fill="#000" x="489.96 515.42 536.56 549.13 558.33 577.00 597.05">Derived</text>
<text transform="translate(0 35.80) scale(0.9282 1)" font-size="35.32" fill="#000" stroke="#000" stroke-width="0.23" x="696.43 727.77 762.61">MWR</text>
<text transform="translate(0 35.80) scale(0.9982 1)" font-size="35.32" fill="#000" x="741.51 763.87 775.68 796.33 817.69 838.16 858.15 869.83">Products</text>
<text transform="translate(0 80.60) scale(0.9920 1)" font-size="29.43" fill="#000" x="294.97 312.87">07</text>
<text transform="translate(0 80.60) scale(0.9491 1)" font-size="29.43" fill="#000" stroke="#000" stroke-width="0.13" x="354.58 376.03 391.80">UTC</text>
<text transform="translate(0 80.60) scale(1.0170 1)" font-size="29.43" fill="#000" x="394.62 411.77 429.63 438.77 456.44 473.93 482.86 500.74">02/16/20</text>
<text transform="translate(0 80.60) scale(1.0254 1)" font-size="29.43" fill="#000" x="522.18">-</text>
<text transform="translate(0 80.60) scale(0.9920 1)" font-size="29.43" fill="#000" x="559.65 577.55">07</text>
<text transform="translate(0 80.60) scale(0.9491 1)" font-size="29.43" fill="#000" stroke="#000" stroke-width="0.13" x="631.23 652.68 668.46">UTC</text>
<text transform="translate(0 80.60) scale(1.0092 1)" font-size="29.43" fill="#000" x="657.94 675.23 693.20 702.44 720.19 737.84 746.88 764.89">02/17/20</text>
<rect x="766.6" y="98.5" width="236.6" height="91.9" rx="2.8" fill="#fff" fill-opacity="0.8" stroke="#ccc" stroke-opacity="0.8" stroke-width="1.1"/>
<circle cx="794.6" cy="116.4" r="4.95" fill="#000"/>
<text transform="translate(0 121.30) scale(0.9763 1)" font-size="20.60" fill="#000" stroke="#000" stroke-width="0.25" x="848.57 863.61 869.08 881.51 894.14">Cloud</text>
<text transform="translate(0 121.30) scale(0.9264 1)" font-size="20.60" fill="#000" stroke="#000" stroke-width="0.34" x="962.29 976.40 989.85 1001.17">Base</text>
<circle cx="794.6" cy="145.4" r="4.95" fill="#f00"/>
<text transform="translate(0 150.00) scale(1.0494 1)" font-size="20.60" fill="#000" stroke="#000" stroke-width="0.20" x="789.87 795.70 808.04 814.65 826.16 838.64 844.83 857.73 864.35 875.86">Integrated</text>
<text transform="translate(0 150.00) scale(0.9890 1)" font-size="20.60" fill="#000" stroke="#000" stroke-width="0.22" x="948.01 959.71 972.92 985.12 997.92">Vapor</text>
<circle cx="794.6" cy="173.5" r="4.95" fill="#00f"/>
<text transform="translate(0 178.70) scale(1.0494 1)" font-size="20.60" fill="#000" stroke="#000" stroke-width="0.20" x="789.87 795.70 808.04 814.65 826.16 838.64 844.83 857.73 864.35 875.86">Integrated</text>
<text transform="translate(0 178.70) scale(1.0117 1)" font-size="20.60" fill="#000" stroke="#000" stroke-width="0.20" x="926.84 937.97 943.22 955.56 967.87 973.13">Liquid</text>
<polygon points="1015.9,730.2 1028.5,729.9 1029.0,735.9 1028.5,739.2 1029.6,744.7 1029.0,752.3 1028.5,762.2 1028.8,764.6 1028.5,765.7 1026.8,765.2 1022.5,762.2 1019.2,757.8 1017.0,756.1 986.4,756.5 986.2,754.0 991.9,749.6 992.4,746.9 991.3,744.7 995.1,743.6 1006.1,744.1 1009.9,741.4 1011.0,739.2 1009.3,737.6 1013.2,732.7" fill="#eea90c"/>
<polygon points="1023.3,769.6 1024.6,767.8 1029.0,766.0 1035.6,763.8 1038.9,762.5 1038.6,763.9 1031.2,767.1 1025.2,769.3" fill="#eea90c"/>
<text stroke="#fff" stroke-width="0.5" transform="translate(1008.09,755.00) scale(0.6132,1)" font-size="14.80" font-weight="bold" fill="#fff">NYS</text>
<text stroke="#4f2170" stroke-width="0.7" transform="translate(1030.80,755.00) scale(0.7034,1)" font-size="14.80" font-weight="bold" fill="#4f2170">Mesonet</text>
<text transform="translate(1031.09,759.90) scale(0.8968,1)" font-size="3.90" font-weight="bold" fill="#4f2170">UNIVERSITY AT ALBANY</text>
</svg>
</body></html>
